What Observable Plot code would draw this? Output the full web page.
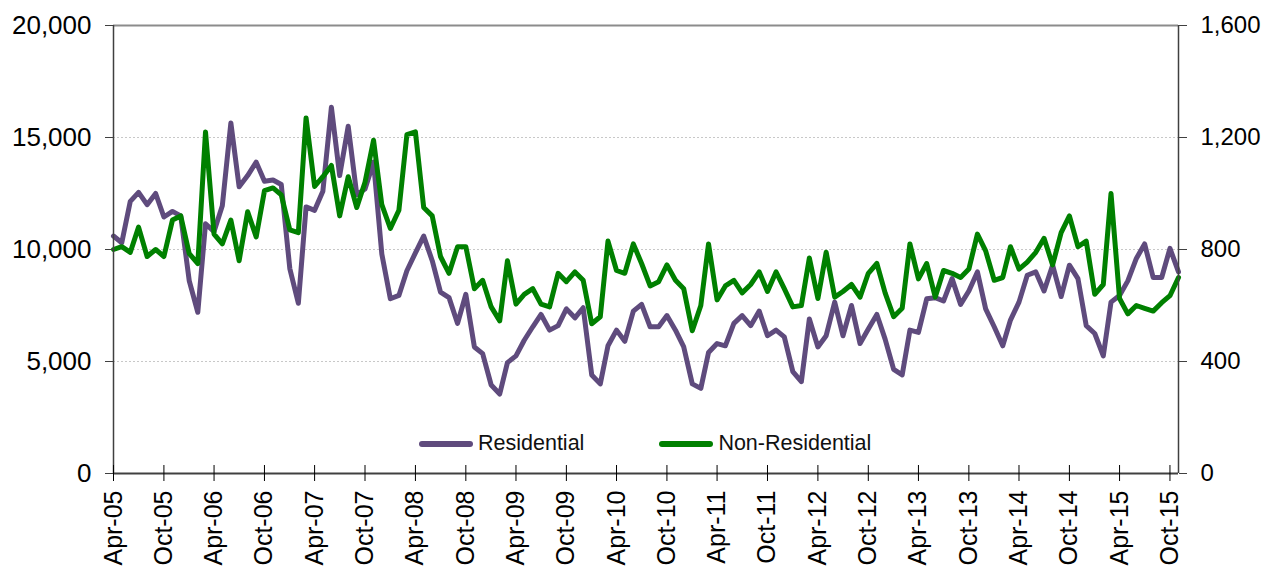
<!DOCTYPE html>
<html>
<head>
<meta charset="utf-8">
<script src="https://cdn.jsdelivr.net/npm/d3@7"></script>
<script src="https://cdn.jsdelivr.net/npm/@observablehq/plot@0.6"></script>
<style>
  html, body { margin: 0; padding: 0; background: #fff; }
  #wrap { position: relative; width: 1270px; height: 567px; overflow: hidden; font-family: "Liberation Sans", Arial, sans-serif; }
  #legend { position: absolute; left: 419px; top: 431px; display: flex; align-items: center; font-size: 21.5px; color: #111; }
  .item { display: flex; align-items: center; }
  .sw { width: 54px; height: 6px; border-radius: 3px; margin-right: 5px; }
</style>
</head>
<body>
<div id="wrap"><div id="legend"></div></div>
<script>
// ---- data (monthly, Apr-05 .. Nov-15) ----
const startMonth = "2005-04-01";
const residential = [
  10600,10300,12150,12550,12000,12500,11450,11700,11500,8600,7200,11150,
  10800,11950,15650,12800,13300,13900,13050,13100,12900,9150,7600,11900,
  11750,12600,16350,13300,15500,12450,12700,13900,9800,7800,7950,9050,
  9850,10600,9500,8100,7850,6700,8000,5650,5350,3950,3550,4950,
  5250,5950,6550,7100,6400,6600,7350,6950,7400,4400,4000,5700,
  6400,5900,7250,7550,6550,6550,7050,6400,5650,4000,3800,5400,
  5800,5700,6700,7050,6600,7250,6150,6400,6100,4550,4100,6900,
  5650,6150,7650,6150,7500,5800,6450,7100,6000,4650,4400,6400,
  6300,7800,7850,7700,8700,7550,8150,9000,7350,6550,5700,6850,
  7650,8850,9000,8150,9300,7900,9300,8700,6600,6250,5250,7650,
  7950,8600,9600,10250,8750,8750,10050,9000
];
const nonResidential = [
  800,810,790,880,775,800,775,905,920,785,750,1220,
  855,820,905,760,935,845,1010,1020,995,870,860,1270,
  1025,1060,1100,920,1060,950,1040,1190,960,875,940,1210,
  1220,950,920,775,715,810,810,660,690,595,545,760,
  605,640,660,605,595,715,685,720,690,535,560,830,
  725,715,820,750,670,685,745,690,660,510,600,820,
  620,670,690,645,675,720,650,720,660,595,600,770,
  625,790,630,650,675,630,715,750,645,560,590,820,
  695,750,630,725,715,700,730,855,795,690,700,810,
  730,755,790,840,745,860,920,810,830,640,675,1000,
  625,570,600,590,580,610,635,700
];
const seriesNames = ["Residential", "Non-Residential"];
const seriesColors = ["#5f4b7d", "#008000"];
const leftTicks = [0, 5000, 10000, 15000, 20000];
const leftMax = 20000, rightMax = 1600;

// ---- derived ----
const start = new Date(startMonth + "T00:00:00Z");
const months = residential.map((_, i) => d3.utcMonth.offset(start, i));
const end = months[months.length - 1];
const ratio = leftMax / rightMax;
const rows = months.map((date, i) => ({date, res: residential[i], nonres: nonResidential[i]}));
const xTicks = d3.utcMonth.range(start, d3.utcMonth.offset(end, 1), 6);
const fmtX = d3.utcFormat("%b-%y");
const fmtN = d3.format(",");
const axisColor = "#404040";

const chart = Plot.plot({
  width: 1270, height: 567,
  marginLeft: 113, marginRight: 92, marginTop: 25, marginBottom: 94,
  style: {fontFamily: "'Liberation Sans', Arial, sans-serif", fontSize: "24px", color: "#000", background: "#fff", overflow: "visible"},
  x: {type: "utc", domain: [start, end]},
  y: {domain: [0, leftMax]},
  marks: [
    Plot.ruleY(leftTicks.slice(1, -1), {stroke: "#c8c8c8", strokeDasharray: "2,2", strokeWidth: 1}),
    Plot.ruleY([leftMax], {stroke: "#8c8c8c", strokeWidth: 2}),
    Plot.lineY(rows, {x: "date", y: "res", stroke: seriesColors[0], strokeWidth: 5, strokeLinejoin: "round", strokeLinecap: "round"}),
    Plot.lineY(rows, {x: "date", y: d => d.nonres * ratio, stroke: seriesColors[1], strokeWidth: 5, strokeLinejoin: "round", strokeLinecap: "round"}),
    Plot.ruleX([start], {stroke: axisColor, strokeWidth: 1.5}),
    Plot.ruleX([end], {stroke: axisColor, strokeWidth: 1.5}),
    Plot.ruleY([0], {stroke: axisColor, strokeWidth: 2}),
    Plot.axisY({ticks: leftTicks, tickSize: 8, tickPadding: 14, tickFormat: fmtN, label: null, stroke: axisColor, fontSize: 26, fill: "#000"}),
    Plot.axisY({anchor: "right", ticks: leftTicks, tickSize: 8, tickPadding: 14, tickFormat: d => fmtN(d / ratio), label: null, stroke: axisColor, fontSize: 24, fill: "#000"}),
    Plot.axisX({ticks: xTicks, tickSize: 16, dy: -8, fill: "none", stroke: "#000", label: null}),
    Plot.axisX({ticks: xTicks, tickSize: 0, tickPadding: 17, tickRotate: -90, tickFormat: fmtX, stroke: "none", fill: "#000", fontSize: 25, label: null})
  ]
});
document.getElementById("wrap").prepend(chart);

const legend = document.getElementById("legend");
seriesNames.forEach((name, i) => {
  const item = document.createElement("div");
  item.className = "item";
  if (i > 0) item.style.marginLeft = "75px";
  const sw = document.createElement("div");
  sw.className = "sw";
  sw.style.background = seriesColors[i];
  const t = document.createElement("span");
  t.textContent = name;
  item.append(sw, t);
  legend.append(item);
});
</script>
</body>
</html>
